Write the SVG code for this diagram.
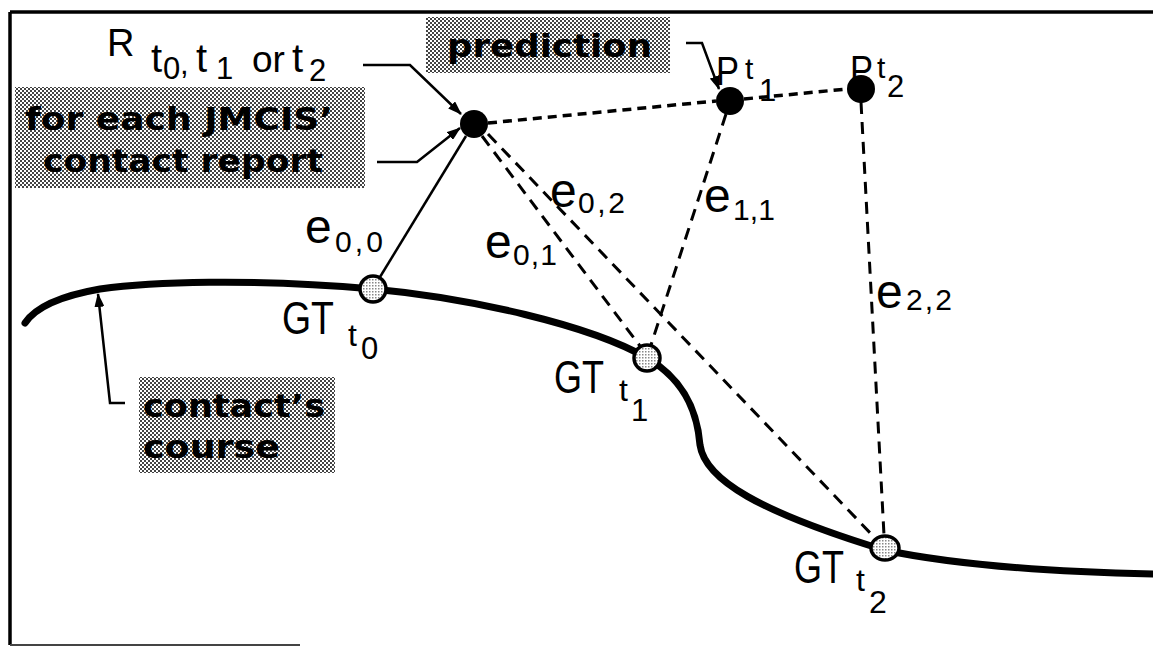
<svg xmlns="http://www.w3.org/2000/svg" width="1153" height="647" viewBox="0 0 1153 647">
<style>
.lbl{font-family:"Liberation Sans",Arial,sans-serif;fill:#000}
.bold{font-family:"DejaVu Sans","Liberation Sans",sans-serif;font-weight:bold;font-size:32px;fill:#000}
.dash{fill:none;stroke:#000;stroke-width:3;stroke-dasharray:12 8}
.dashb{fill:none;stroke:#000;stroke-width:3.5;stroke-dasharray:9 6}
.solid{fill:none;stroke:#000;stroke-width:2.5}
.gt{fill:url(#light);stroke:#000;stroke-width:3.5}
</style>
<defs>
<pattern id="dots" width="4" height="4" patternUnits="userSpaceOnUse">
<rect width="4" height="4" fill="#fff"/>
<rect width="2" height="2" fill="#444"/>
<rect x="2" y="2" width="2" height="2" fill="#444"/>
</pattern>
<pattern id="light" width="3" height="3" patternUnits="userSpaceOnUse">
<rect width="3" height="3" fill="#fff"/>
<rect width="1.5" height="1.5" fill="#888"/>
</pattern>
<marker id="ah" viewBox="0 0 14 10" refX="13" refY="5" markerWidth="14" markerHeight="10" markerUnits="userSpaceOnUse" orient="auto">
<path d="M0,0 L14,5 L0,10 Z" fill="#000"/>
</marker>
</defs>
<rect width="1153" height="647" fill="#fff"/>
<g id="frame" fill="none" stroke="#000">
<path d="M10,12 H1153" stroke-width="3.5"/>
<path d="M10,12 V645" stroke-width="3.5"/>
<path d="M10,645 H300" stroke-width="2" stroke="#444"/>
</g>
<path id="course" d="M25,323 C35,308 60,296 100,289 C150,282 250,278 373,289 C470,298 590,325 647,358 C690,383 698,420 700,445 C705,480 760,512 884,550 C960,566 1060,572 1153,574" fill="none" stroke="#000" stroke-width="7" stroke-linecap="round"/>
<g id="connectors">
<path class="dashb" d="M488,123 L716,101"/>
<path class="dashb" d="M744,99 L847,89"/>
<path class="dash" d="M726,114 L651,345"/>
<path class="dash" d="M861,102 L884,535"/>
<path class="dash" d="M482,136 L640,346"/>
<path class="dash" d="M488,134 L876,539"/>
<path class="solid" d="M466,136 L380,277"/>
<path class="solid" d="M363,65 L410,65 L461,114" marker-end="url(#ah)"/>
<path class="solid" d="M377,162 L417,162 L460,128" marker-end="url(#ah)"/>
<path class="solid" d="M686,43 L702,43 L719,89" marker-end="url(#ah)"/>
<path class="solid" d="M125,403 L110,403 L98,294" marker-end="url(#ah)"/>
</g>
<g id="edge-labels" class="lbl">
<text x="305" y="243" font-size="48">e</text><text x="335" y="252" font-size="30" textLength="48" lengthAdjust="spacing">0,0</text>
<text x="550" y="207" font-size="48">e</text><text x="578" y="213" font-size="30" textLength="47" lengthAdjust="spacing">0,2</text>
<text x="485" y="258" font-size="48">e</text><text x="513" y="265" font-size="30" textLength="44" lengthAdjust="spacing">0,1</text>
<text x="704" y="212" font-size="48">e</text><text x="733" y="220" font-size="30" textLength="42" lengthAdjust="spacing">1,1</text>
<text x="876" y="308" font-size="48">e</text><text x="906" y="310" font-size="30" textLength="46" lengthAdjust="spacing">2,2</text>
</g>
<g id="label-report">
<rect x="15" y="87" width="350" height="101" fill="url(#dots)"/>
<text class="bold" x="25" y="130" textLength="308" lengthAdjust="spacingAndGlyphs">for each JMCIS’</text>
<text class="bold" x="43" y="172" textLength="280" lengthAdjust="spacingAndGlyphs">contact report</text>
</g>
<g id="label-prediction">
<rect x="426" y="17" width="244" height="56" fill="url(#dots)"/>
<text class="bold" x="447" y="57" font-size="31" textLength="205" lengthAdjust="spacingAndGlyphs">prediction</text>
</g>
<g id="label-course">
<rect x="139" y="377" width="196" height="96" fill="url(#dots)"/>
<text class="bold" x="143" y="417" textLength="182" lengthAdjust="spacingAndGlyphs">contact’s</text>
<text class="bold" x="143" y="458" textLength="137" lengthAdjust="spacingAndGlyphs">course</text>
</g>
<g id="node-R" class="lbl">
<circle cx="474" cy="124" r="14" fill="#000"/>
<text x="107" y="56" font-size="38">R</text>
<text x="151" y="72" font-size="40">t</text>
<text x="163" y="79" font-size="31">0</text>
<text x="180" y="74" font-size="31">,</text>
<text x="196" y="72" font-size="40">t</text>
<text x="216" y="79" font-size="31">1</text>
<text x="252" y="72" font-size="37">or</text>
<text x="292" y="72" font-size="40">t</text>
<text x="309" y="81" font-size="31">2</text>
</g>
<g id="node-Pt1" class="lbl">
<circle cx="730" cy="101" r="14" fill="#000"/>
<text x="716" y="85" font-size="40" textLength="23" lengthAdjust="spacingAndGlyphs">P</text>
<text x="745" y="79" font-size="30">t</text>
<text x="759" y="101" font-size="31">1</text>
</g>
<g id="node-Pt2" class="lbl">
<circle cx="861" cy="89" r="14" fill="#000"/>
<text x="850" y="84" font-size="40" textLength="23" lengthAdjust="spacingAndGlyphs">P</text>
<text x="877" y="78" font-size="30">t</text>
<text x="887" y="97" font-size="31">2</text>
</g>
<g id="node-GTt0" class="lbl">
<circle class="gt" cx="373" cy="289" r="13"/>
<text x="282" y="334" font-size="46" textLength="52" lengthAdjust="spacingAndGlyphs">GT</text>
<text x="348" y="346" font-size="32">t</text>
<text x="361" y="359" font-size="31">0</text>
</g>
<g id="node-GTt1" class="lbl">
<circle class="gt" cx="647" cy="358" r="13"/>
<text x="554" y="393" font-size="46" textLength="50" lengthAdjust="spacingAndGlyphs">GT</text>
<text x="619" y="401" font-size="32">t</text>
<text x="631" y="421" font-size="31">1</text>
</g>
<g id="node-GTt2" class="lbl">
<ellipse class="gt" cx="885" cy="548" rx="14" ry="12"/>
<text x="794" y="583" font-size="46" textLength="50" lengthAdjust="spacingAndGlyphs">GT</text>
<text x="856" y="591" font-size="32">t</text>
<text x="869" y="613" font-size="32">2</text>
</g>
</svg>
